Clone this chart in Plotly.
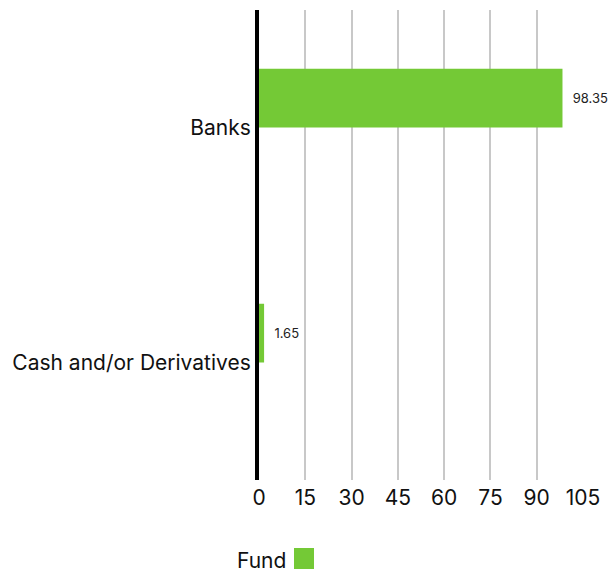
import plotly.graph_objects as go

categories = ["Banks", "Cash and/or Derivatives"]
fund_values = [98.35, 1.65]
fund_labels = ["98.35", "1.65"]
tick_values = [0, 15, 30, 45, 60, 75, 90, 105]
legend_name = "Fund"
green = "#74c936"

W, H = 608, 573
ml, mr, mt, mb = 259, 25, 10, 93
pw, ph = W - ml - mr, H - mt - mb

fig = go.Figure()
fig.add_trace(go.Bar(
    y=categories, x=fund_values, orientation="h",
    marker=dict(color=green, line=dict(width=0)),
    width=0.25, offset=-0.25,
    text=fund_labels, textposition="outside",
    texttemplate="\u00a0\u00a0%{text}",
    textfont=dict(size=13, color="#222222", family="Inter"),
    cliponaxis=False, name=legend_name, showlegend=False,
))

def px_to_paper_x(px):
    return (px - ml) / pw

def py_to_paper_y(py):
    return (H - mb - py) / ph

fig.add_annotation(
    text=legend_name, xref="paper", yref="paper",
    x=px_to_paper_x(288), y=py_to_paper_y(560),
    xanchor="right", yanchor="middle", showarrow=False,
    font=dict(size=21, color="#111111", family="Inter"),
)
fig.add_shape(
    type="rect", xref="paper", yref="paper",
    x0=px_to_paper_x(294), x1=px_to_paper_x(314),
    y0=py_to_paper_y(569), y1=py_to_paper_y(548),
    fillcolor=green, line=dict(width=0),
)

fig.update_layout(
    width=W, height=H,
    margin=dict(l=ml, r=mr, t=mt, b=mb, pad=0, autoexpand=False),
    paper_bgcolor="white", plot_bgcolor="white",
    font=dict(family="Inter", size=21, color="#111111"),
    showlegend=False,
)
fig.update_xaxes(
    range=[0, 105], tickvals=tick_values, ticktext=[str(v) for v in tick_values],
    showgrid=True, gridcolor="#c8c8c8", gridwidth=2,
    zeroline=False, showline=False, ticks="", ticklabelstandoff=3,
    tickfont=dict(size=21, color="#111111"),
    fixedrange=True, automargin=False,
)
fig.update_yaxes(
    autorange="reversed", showgrid=False, zeroline=False,
    showline=True, linecolor="#000000", linewidth=4,
    ticks="", ticklabelstandoff=0, automargin=False,
    tickfont=dict(size=21, color="#111111"),
)

fig.write_html(
    "out.html",
    config={"displayModeBar": False},
    post_script="document.body.style.margin='0';document.body.style.overflow='hidden';",
)
